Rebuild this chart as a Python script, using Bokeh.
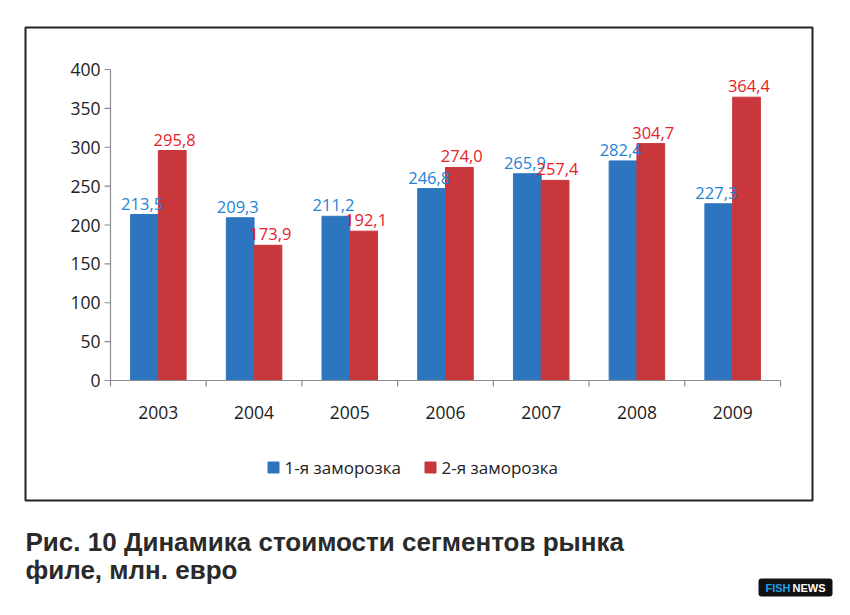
from bokeh.plotting import figure
from bokeh.models import ColumnDataSource, Range1d
from bokeh.core.properties import value
from bokeh.embed import file_html
from bokeh.resources import INLINE

years = ["2003", "2004", "2005", "2006", "2007", "2008", "2009"]
first = [213.5, 209.3, 211.2, 246.8, 265.9, 282.4, 227.3]
second = [295.8, 173.9, 192.1, 274.0, 257.4, 304.7, 364.4]
series_names = ["1-я заморозка", "2-я заморозка"]
y_ticks = [0, 50, 100, 150, 200, 250, 300, 350, 400]
caption = ["Рис. 10 Динамика стоимости сегментов рынка", "филе, млн. евро"]

W, H = 834, 599
# plot-area layout in canvas pixels
L, R, T, B = 110, 780, 69, 380
cat_px = (R - L) / len(years)
ypx = (B - T) / 400.0

p = figure(width=W, height=H, x_range=Range1d(0, W), y_range=Range1d(H, 0),
           output_backend="svg", toolbar_location=None,
           min_border=0, min_border_left=0, min_border_right=0, min_border_top=0, min_border_bottom=0)
p.axis.visible = False
p.grid.grid_line_color = None
p.outline_line_color = None
p.extra_x_ranges = {"cx": Range1d(-L / cat_px, len(years) + (W - R) / cat_px)}
p.extra_y_ranges = {"cy": Range1d(-(H - B) / ypx, 400 + T / ypx)}

FONT = "Open Sans"
BLUE, RED = "#2e75c0", "#c8373c"
fmt = lambda v: f"{v:.1f}".replace(".", ",")
idx = list(range(len(years)))
src = ColumnDataSource(dict(
    xa=[i + 0.5 - 0.145 for i in idx], xb=[i + 0.5 + 0.145 for i in idx],
    xla=[i + 0.5 - 0.17 for i in idx], xlb=[i + 0.5 + 0.17 for i in idx],
    xc=[i + 0.5 for i in idx], zero=[0] * len(idx),
    a=first, b=second, la=[fmt(v) for v in first], lb=[fmt(v) for v in second], yr=years))

# outer frame
p.quad(left=25, right=812, top=27, bottom=500, fill_alpha=0, line_color="#222222", line_width=2)

# bars
p.vbar(x="xa", top="a", bottom="zero", width=0.29, source=src, color=BLUE, x_range_name="cx", y_range_name="cy")
p.vbar(x="xb", top="b", bottom="zero", width=0.29, source=src, color=RED, x_range_name="cx", y_range_name="cy")
p.text(x="xla", y="a", text="la", source=src, x_range_name="cx", y_range_name="cy",
       text_align="center", text_baseline="bottom", y_offset=-5,
       text_font=value(FONT), text_font_size="16.5px", text_color="#1f84d4")
p.text(x="xlb", y="b", text="lb", source=src, x_range_name="cx", y_range_name="cy",
       text_align="center", text_baseline="bottom", y_offset=-5,
       text_font=value(FONT), text_font_size="16.5px", text_color="#e8202a")

# axes
AX = "#8c8c8c"
p.segment(x0=[0], x1=[len(years)], y0=[0], y1=[0], x_range_name="cx", y_range_name="cy", line_color=AX, line_width=1.2)
p.segment(x0=[0], x1=[0], y0=[0], y1=[400], x_range_name="cx", y_range_name="cy", line_color=AX, line_width=1.2)
p.segment(x0=[L - 6] * len(y_ticks), x1=[L] * len(y_ticks), y0=y_ticks, y1=y_ticks,
          y_range_name="cy", line_color=AX, line_width=1.2)
p.text(x=[L - 10] * len(y_ticks), y=y_ticks, text=[str(t) for t in y_ticks], y_range_name="cy",
       text_align="right", text_baseline="middle", text_font=value(FONT), text_font_size="17.5px",
       text_color="#222222")
bnd = list(range(len(years) + 1))
p.segment(x0=bnd, x1=bnd, y0=[B] * len(bnd), y1=[B + 6] * len(bnd), x_range_name="cx",
          line_color=AX, line_width=1.2)
p.text(x="xc", y=B + 32, text="yr", source=src, x_range_name="cx",
       text_align="center", text_baseline="middle", text_font=value(FONT), text_font_size="17.5px",
       text_color="#222222")

# legend
p.rect(x=[273, 430], y=[467, 467], width=11, height=11, color=[BLUE, RED])
p.text(x=[284, 441], y=[467, 467], text=series_names, text_baseline="middle",
       text_font=value(FONT), text_font_size="17px", text_color="#222222")

# caption
p.text(x=[25, 25], y=[541, 569], text=caption, text_baseline="alphabetic",
       text_font=value("Liberation Sans"), text_font_style="bold", text_font_size="26px", text_color="#2a2a2a")

# logo
p.quad(left=758, right=832, top=578, bottom=596, fill_color="#111111", line_color=None, border_radius=3)
p.text(x=[765, 792], y=[587, 587], text=["FISH", "NEWS"], text_baseline="middle",
       text_font=value("Liberation Sans"), text_font_style="bold", text_font_size="11px",
       text_color=["#1aa3e8", "#ffffff"])

open("out.html", "w").write(file_html(p, INLINE))
